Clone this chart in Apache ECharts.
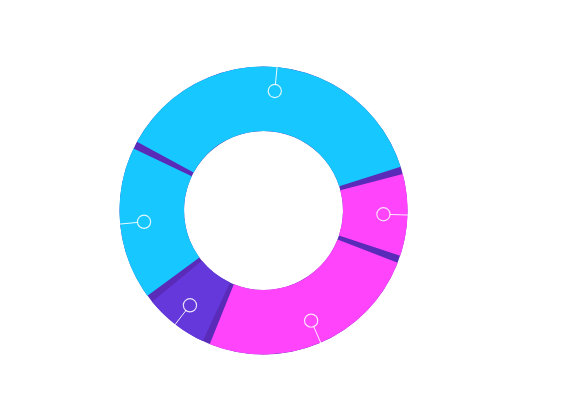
<!DOCTYPE html>
<html>
<head>
<meta charset="utf-8">
<script src="https://cdn.jsdelivr.net/npm/echarts@6/dist/echarts.min.js"></script>
<style>
html,body{margin:0;padding:0;background:#fff;}
#chart{width:577px;height:410px;}
</style>
</head>
<body>
<div id="chart"></div>
<script>
const categories = ['Segment A', 'Segment B', 'Segment C', 'Segment D', 'Segment E'];
const values = [38, 10, 26, 8, 18];
const colors = ['#17C7FF', '#FF44FB', '#FF44FB', '#6438DA', '#17C7FF'];
const gapColor = '#5A2BB8';

const chart = echarts.init(document.getElementById('chart'));
const center = [263.5, 210.5];
const ring = [79.5, 144];
const startAngle = 153;
const padAngle = 3;

const mainData = categories.map((n, i) => ({ name: n, value: values[i], itemStyle: { color: colors[i] } }));
const lineData = categories.map((n, i) => ({ name: n, value: values[i] }));
const circleData = categories.map((n, i) => ({
  name: n, value: values[i],
  label: { backgroundColor: colors[i] }
}));

chart.setOption({
  backgroundColor: '#fff',
  animation: false,
  series: [
    {
      type: 'pie', silent: true, z: 1,
      center: center, radius: ring,
      label: { show: false }, labelLine: { show: false },
      data: [{ value: 1, itemStyle: { color: gapColor } }]
    },
    {
      type: 'pie', silent: true, z: 2,
      center: center, radius: ring,
      startAngle: startAngle, padAngle: padAngle,
      avoidLabelOverlap: false,
      label: { show: false }, labelLine: { show: false },
      data: mainData
    },
    {
      type: 'pie', silent: true, z: 3,
      center: center, radius: [0, 117],
      startAngle: startAngle, padAngle: padAngle,
      avoidLabelOverlap: false,
      itemStyle: { color: 'rgba(0,0,0,0)' },
      label: { show: true, position: 'outside', formatter: ' ', color: 'rgba(0,0,0,0)', fontSize: 1 },
      labelLine: { show: true, length: 40, length2: 0, smooth: false, lineStyle: { color: '#ffffff', width: 1, opacity: 0.9 } },
      data: lineData
    },
    {
      type: 'pie', silent: true, z: 4,
      center: center, radius: [90, 144],
      startAngle: startAngle, padAngle: padAngle,
      avoidLabelOverlap: false,
      itemStyle: { color: 'rgba(0,0,0,0)' },
      label: {
        show: true, position: 'inside', formatter: ' ',
        width: 12, height: 12, borderRadius: 7,
        borderColor: 'rgba(255,255,255,0.85)', borderWidth: 1.2,
        color: 'rgba(0,0,0,0)', fontSize: 1, padding: 0
      },
      labelLine: { show: false },
      data: circleData
    }
  ]
});
</script>
</body>
</html>
